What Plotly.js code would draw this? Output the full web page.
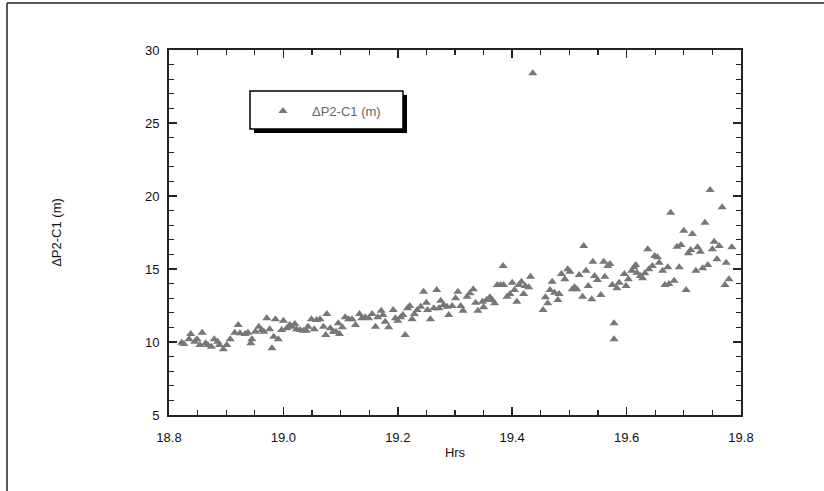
<!DOCTYPE html>
<html>
<head>
<meta charset="utf-8">
<script src="https://cdn.plot.ly/plotly-3.0.1.min.js"></script>
<style>html,body{margin:0;padding:0;background:#fff;}#chart{width:824px;height:491px;}</style>
</head>
<body>
<div id="chart"></div>
<script>
const hrs = [
18.822,18.826,18.838,18.835,18.845,18.849,18.854,18.858,18.864,18.868,18.874,18.879,18.885,18.888,18.895,18.901,18.907,18.915,18.921,18.924,
18.933,18.938,18.943,18.945,18.951,18.957,18.962,18.966,18.971,18.976,18.980,18.983,18.986,18.991,18.997,19.000,19.006,19.011,19.015,19.020,
19.023,19.029,19.035,19.040,19.043,19.049,19.054,19.058,19.064,19.070,19.074,19.076,
19.082,19.087,19.096,19.092,19.103,19.098,19.108,19.114,19.120,19.126,19.133,19.137,19.143,19.149,19.155,19.161,19.165,19.171,
19.174,19.178,19.184,19.192,19.196,19.200,19.205,19.209,19.213,19.217,19.221,19.225,19.229,19.234,19.240,19.245,19.250,19.252,19.257,19.263,
19.268,19.272,19.275,19.280,19.286,19.289,19.295,19.301,19.305,19.310,19.314,19.321,19.326,19.332,19.336,19.340,
19.348,19.350,19.355,19.361,19.365,19.369,19.374,19.380,19.384,19.385,19.391,19.396,19.400,19.404,19.408,19.412,19.416,19.420,19.423,19.429,
19.432,19.436,19.454,19.458,19.462,19.466,19.470,19.474,19.480,19.482,19.486,19.492,19.497,19.501,19.505,19.509,19.513,19.517,19.523,19.525,
19.529,19.533,19.539,19.541,19.544,19.549,19.555,19.560,19.562,19.567,19.571,19.575,19.578,19.578,19.583,19.587,
19.596,19.599,19.603,19.609,19.613,19.616,19.618,19.624,19.628,19.632,19.637,19.639,19.645,19.649,19.654,19.657,19.663,19.667,19.672,19.674,
19.677,19.683,19.688,19.692,19.695,19.700,19.704,19.708,19.712,19.715,19.721,19.724,19.729,19.733,19.737,19.742,19.746,19.750,19.753,19.758,
19.762,19.767,19.772,19.774,19.779,19.784
];
const dP2C1 = [
9.95,9.86,10.55,10.18,10.02,10.18,9.79,10.64,9.91,9.79,9.68,10.18,10.02,9.79,9.50,9.79,10.18,10.64,11.16,10.60,
10.55,10.64,9.91,10.18,10.71,11.05,10.82,10.71,11.62,10.87,9.57,10.36,11.55,10.18,10.82,11.46,10.94,11.16,11.05,11.23,
10.87,10.82,10.77,10.77,11.05,11.55,10.87,11.51,11.55,11.05,10.48,11.92,
10.94,10.71,11.28,10.71,11.01,10.55,11.69,11.55,11.55,11.16,11.92,11.62,11.69,11.62,11.92,11.05,11.69,12.14,
11.85,11.39,11.01,12.19,11.62,11.46,11.69,11.85,10.48,12.31,12.47,11.55,11.92,12.19,12.42,13.45,12.69,12.19,11.55,12.31,
13.56,12.31,12.83,12.53,12.42,11.85,12.47,12.99,13.45,12.47,12.14,13.10,13.34,13.61,12.69,12.14,
12.76,12.38,12.88,13.06,12.88,12.65,13.90,13.90,15.21,13.90,13.10,13.29,14.06,13.56,12.76,13.90,14.13,13.29,13.84,13.75,
14.47,28.4,12.19,13.06,12.65,13.56,14.13,13.38,12.88,13.29,14.66,14.29,14.98,14.82,13.61,13.75,13.61,14.59,13.10,16.58,
14.88,13.84,12.92,15.50,14.52,14.25,13.22,15.50,14.47,15.21,15.34,13.90,11.28,10.18,13.68,14.06,
14.66,13.84,14.29,14.88,15.12,15.27,14.75,14.52,14.36,14.71,16.35,14.98,15.21,15.89,15.80,15.43,14.88,13.90,15.12,13.97,
18.86,14.20,16.53,15.12,16.64,17.62,13.56,16.08,16.30,17.40,14.88,16.49,16.18,15.05,18.17,15.27,20.41,16.35,16.87,15.66,
16.58,19.23,13.90,15.43,14.29,16.49
];
const seriesName = 'ΔP2-C1 (m)';
const xTitle = 'Hrs';
const yTitle = 'ΔP2-C1 (m)';
const xTickVals = [18.8, 19.0, 19.2, 19.4, 19.6, 19.8];
const yTickVals = [5, 10, 15, 20, 25, 30];

const font = 'Liberation Sans, Arial, Helvetica, sans-serif';
const axisCommon = {
  showline: true, linecolor: '#222', linewidth: 2, mirror: 'allticks',
  ticks: 'inside', ticklen: 8, tickwidth: 1.5, tickcolor: '#222',
  showgrid: false, zeroline: false,
  tickfont: {family: font, size: 13, color: '#111'},
};

const trace = {
  x: hrs, y: dP2C1, type: 'scatter', mode: 'markers', name: seriesName,
  marker: {symbol: 'triangle-up', size: 8, color: '#777777', line: {width: 0}},
  showlegend: true
};

const layout = {
  width: 824, height: 491,
  margin: {l: 169, r: 83, t: 50, b: 76},
  paper_bgcolor: '#fff', plot_bgcolor: '#fff',
  font: {family: font},
  xaxis: Object.assign({}, axisCommon, {
    range: [18.8, 19.8], tickvals: xTickVals, ticktext: xTickVals.map(v => v.toFixed(1)),
    ticklabelstandoff: 9,
    minor: {dtick: 0.05, ticks: 'inside', ticklen: 5, tickwidth: 1.2, tickcolor: '#222', showgrid: false},
    title: {text: xTitle, font: {family: font, size: 13, color: '#111'}, standoff: 4}
  }),
  yaxis: Object.assign({}, axisCommon, {
    range: [5, 30], tickvals: yTickVals,
    ticklabelstandoff: 5,
    minor: {dtick: 1, ticks: 'inside', ticklen: 5, tickwidth: 1.2, tickcolor: '#222', showgrid: false},
    title: {text: yTitle, font: {family: font, size: 13, color: '#111'}, standoff: 80}
  }),
  showlegend: true,
  legend: {
    x: 0.1486, xanchor: 'left', y: 0.833, yanchor: 'middle',
    bgcolor: 'rgba(0,0,0,0)', borderwidth: 0, itemwidth: 48,
    font: {family: font, size: 13, color: '#666666'}
  },
  shapes: [
    {type: 'rect', xref: 'paper', yref: 'paper', x0: 0.1486, x1: 0.4161, y0: 0.7726, y1: 0.8767,
     fillcolor: '#000', line: {width: 0}, layer: 'above'},
    {type: 'rect', xref: 'paper', yref: 'paper', x0: 0.1416, x1: 0.4091, y0: 0.7836, y1: 0.8877,
     fillcolor: '#fff', line: {color: '#000', width: 1.5}, layer: 'above'},
    {type: 'line', xref: 'paper', yref: 'paper', x0: -0.2832, x1: -0.2832, y0: 1.129, y1: -0.3, line: {color: '#222', width: 1.5}},
    {type: 'line', xref: 'paper', yref: 'paper', x0: -0.2832, x1: 1.2, y0: 1.129, y1: 1.129, line: {color: '#222', width: 1.5}}
  ]
};

Plotly.newPlot('chart', [trace], layout, {displayModeBar: false, staticPlot: true});
</script>
</body>
</html>
